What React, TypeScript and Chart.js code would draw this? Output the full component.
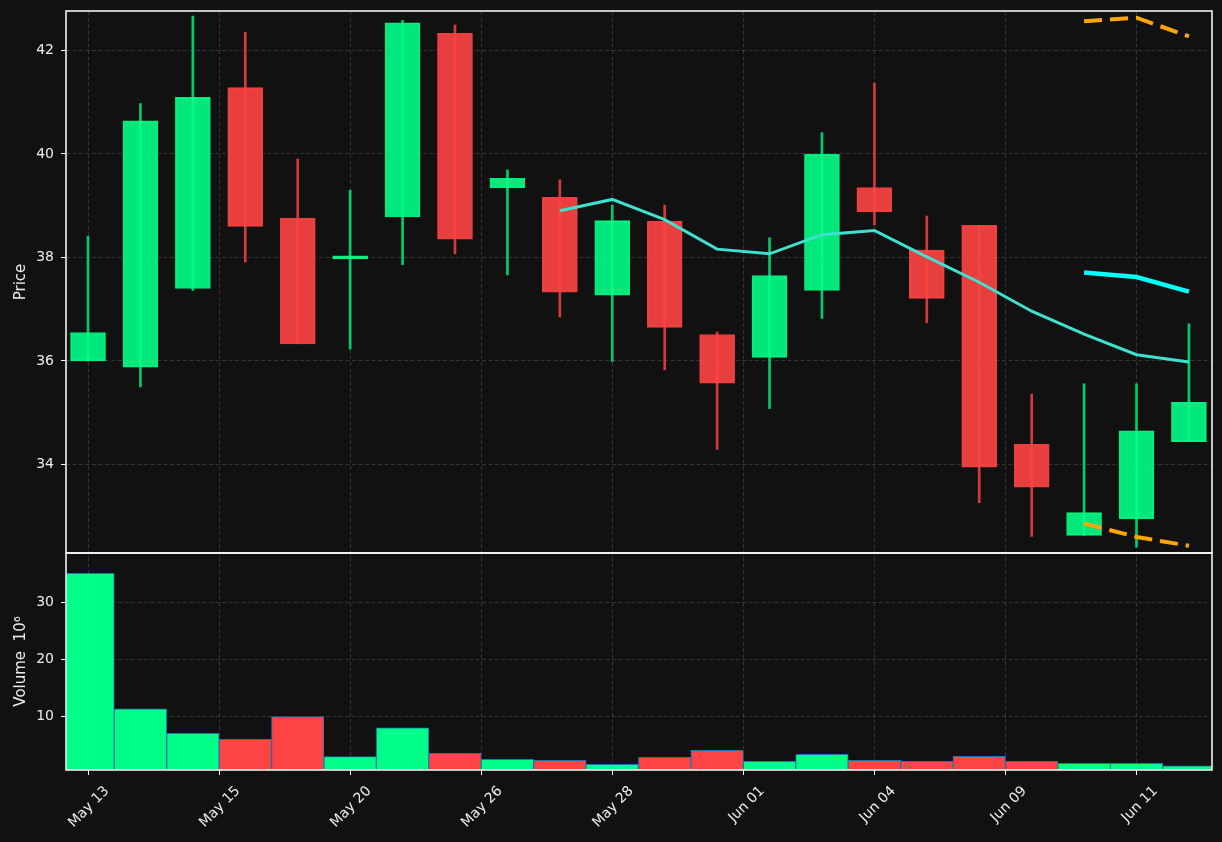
import { useEffect, useRef } from "react";
import { Chart, registerables } from "chart.js";

Chart.register(...registerables);

// ---- data ----
const INDEX = [0, 1, 2, 3, 4, 5, 6, 7, 8, 9, 10, 11, 12, 13, 14, 15, 16, 17, 18, 19, 20, 21];
const OPEN = [36.0, 35.88, 37.4, 41.28, 38.76, 37.97, 38.78, 42.33, 39.34, 39.16, 37.27, 38.7, 36.51, 36.07, 37.36, 39.35, 38.14, 38.62, 34.39, 32.63, 32.95, 34.44];
const CLOSE = [36.55, 40.64, 41.09, 38.6, 36.33, 38.03, 42.53, 38.35, 39.53, 37.33, 38.71, 36.65, 35.57, 37.65, 39.99, 38.88, 37.21, 33.95, 33.56, 33.07, 34.65, 35.2];
const HIGH = [38.41, 40.97, 42.66, 42.35, 39.9, 39.3, 42.58, 42.49, 39.69, 39.5, 39.01, 39.01, 36.56, 38.38, 40.41, 41.37, 38.8, 38.62, 35.36, 35.56, 35.56, 36.72];
const LOW = [36.0, 35.5, 37.36, 37.91, 36.33, 36.23, 37.86, 38.07, 37.66, 36.85, 35.99, 35.83, 34.29, 35.08, 36.82, 38.63, 36.74, 33.26, 32.61, 32.63, 32.4, 34.44];
const VOLUME = [35.1, 11.33, 7.0, 5.96, 9.93, 2.92, 8.0, 3.5, 2.45, 2.28, 1.58, 2.8, 4.03, 2.1, 3.33, 2.28, 2.1, 2.98, 2.1, 1.75, 1.75, 1.33];

const MA_START = 9;
const MA10 = [38.9, 39.12, 38.73, 38.16, 38.07, 38.44, 38.52, 38.01, 37.52, 36.96, 36.52, 36.12, 35.98];
const BAND_START = 19;
const CYAN_LINE = [37.71, 37.62, 37.34];
const ORANGE_UPPER = [42.56, 42.63, 42.27];
const ORANGE_LOWER = [32.86, 32.6, 32.43];

const TICK_POS = [0, 2.5, 5, 7.5, 10, 12.5, 15, 17.5, 20];
const TICK_LABELS = ["May 13", "May 15", "May 20", "May 26", "May 28", "Jun 01", "Jun 04", "Jun 09", "Jun 11"];
const PRICE_TICKS = [34, 36, 38, 40, 42];
const VOL_TICKS = [10, 20, 30];

// ---- styles ----
const UP_BODY = "rgba(0,255,136,0.9)";
const DOWN_BODY = "rgba(255,68,68,0.9)";
const UP_WICK = "#00CC6E";
const DOWN_WICK = "#D43A3A";
const UP_VOL = "#00FF88";
const DOWN_VOL = "#FF4444";
const GRID = "rgba(255,255,255,0.15)";
const TEXT = "#eeeeee";
const FONT = "'DejaVu Sans', sans-serif";

const isUp = (i: number) => CLOSE[i] >= OPEN[i];

const framePlugin = {
  id: "frames",
  beforeDraw(chart: any) {
    const { ctx, width, height } = chart;
    ctx.save();
    ctx.fillStyle = "#111111";
    ctx.fillRect(0, 0, width, height);
    ctx.restore();
  },
  afterDraw(chart: any) {
    const { ctx, chartArea } = chart;
    ctx.save();
    ctx.strokeStyle = "#ffffff";
    ctx.lineWidth = 1.5;
    for (const id of ["y", "yv"]) {
      const s = chart.scales[id];
      ctx.strokeRect(chartArea.left, s.top, chartArea.right - chartArea.left, s.bottom - s.top);
    }
    ctx.restore();
  },
};

const fitY = (s: any) => {
  s.width = 66;
  s.paddingTop = 0;
  s.paddingBottom = 0;
};

export default function App() {
  const ref = useRef<HTMLCanvasElement>(null);

  useEffect(() => {
    const wicks = INDEX.map((i) => ({ x: i, y: [LOW[i], HIGH[i]] }));
    const bodies = INDEX.map((i) => ({ x: i, y: [OPEN[i], CLOSE[i]] }));
    const vols = INDEX.map((i) => ({ x: i, y: VOLUME[i] }));
    const ma = MA10.map((v, k) => ({ x: MA_START + k, y: v }));
    const cyan = CYAN_LINE.map((v, k) => ({ x: BAND_START + k, y: v }));
    const up = ORANGE_UPPER.map((v, k) => ({ x: BAND_START + k, y: v }));
    const lo = ORANGE_LOWER.map((v, k) => ({ x: BAND_START + k, y: v }));

    const chart = new Chart(ref.current as HTMLCanvasElement, {
      type: "bar",
      data: {
        datasets: [
          {
            type: "bar",
            data: wicks as any,
            xAxisID: "x",
            yAxisID: "y",
            backgroundColor: INDEX.map((i) => (isUp(i) ? UP_WICK : DOWN_WICK)),
            borderWidth: 0,
            barThickness: 2,
            grouped: false,
            order: 6,
          } as any,
          {
            type: "bar",
            data: bodies as any,
            xAxisID: "x",
            yAxisID: "y",
            backgroundColor: INDEX.map((i) => (isUp(i) ? UP_BODY : DOWN_BODY)),
            borderColor: INDEX.map((i) => (isUp(i) ? UP_BODY : DOWN_BODY)),
            borderWidth: 1,
            borderSkipped: false,
            barThickness: 35,
            grouped: false,
            order: 5,
          } as any,
          {
            type: "bar",
            data: vols as any,
            xAxisID: "x",
            yAxisID: "yv",
            backgroundColor: INDEX.map((i) => (isUp(i) ? UP_VOL : DOWN_VOL)),
            borderColor: "#1f77b4",
            borderWidth: 1,
            barPercentage: 1,
            categoryPercentage: 1,
            grouped: false,
            order: 5,
          } as any,
          {
            type: "line",
            data: ma as any,
            xAxisID: "x",
            yAxisID: "y",
            borderColor: "#40E0D0",
            borderWidth: 3,
            pointRadius: 0,
            tension: 0,
            order: 1,
          } as any,
          {
            type: "line",
            data: cyan as any,
            xAxisID: "x",
            yAxisID: "y",
            borderColor: "#00FFFF",
            borderWidth: 4.5,
            pointRadius: 0,
            tension: 0,
            order: 1,
          } as any,
          {
            type: "line",
            data: up as any,
            xAxisID: "x",
            yAxisID: "y",
            borderColor: "#FFA500",
            borderWidth: 4,
            borderDash: [18, 8],
            pointRadius: 0,
            tension: 0,
            order: 1,
          } as any,
          {
            type: "line",
            data: lo as any,
            xAxisID: "x",
            yAxisID: "y",
            borderColor: "#FFA500",
            borderWidth: 4,
            borderDash: [18, 8],
            pointRadius: 0,
            tension: 0,
            order: 1,
          } as any,
        ],
      },
      options: {
        responsive: false,
        animation: false,
        devicePixelRatio: 1,
        layout: { padding: { top: 11, right: 10, bottom: 0, left: 0 } },
        plugins: { legend: { display: false }, tooltip: { enabled: false } },
        scales: {
          x: {
            type: "linear",
            position: "bottom",
            offset: false,
            min: -0.42,
            max: 21.44,
            afterBuildTicks: (s: any) => {
              s.ticks = TICK_POS.map((v) => ({ value: v }));
            },
            afterFit: (s: any) => {
              s.height = 72;
              s.paddingLeft = 0;
              s.paddingRight = 0;
            },
            grid: { offset: false, color: GRID, lineWidth: 1, tickColor: "#ffffff", tickLength: 5, tickBorderDash: [] },
            border: { display: false, dash: [4, 2.5] },
            ticks: {
              autoSkip: false,
              maxRotation: 45,
              minRotation: 45,
              padding: 8,
              labelOffset: 19,
              color: TEXT,
              font: { family: FONT, size: 14 },
              callback: (_v: any, idx: number) => TICK_LABELS[idx],
            },
          },
          y: {
            type: "linear",
            position: "left",
            stack: "panels",
            stackWeight: 542,
            weight: 2,
            min: 32.29,
            max: 42.76,
            afterBuildTicks: (s: any) => {
              s.ticks = PRICE_TICKS.map((v) => ({ value: v }));
            },
            afterFit: fitY,
            grid: { color: GRID, lineWidth: 1, tickColor: "#ffffff", tickLength: 5, tickBorderDash: [] },
            border: { display: false, dash: [4, 2.5] },
            ticks: { padding: 7, color: TEXT, font: { family: FONT, size: 14 } },
            title: {
              display: true,
              text: "Price",
              color: TEXT,
              font: { family: FONT, size: 15 },
              padding: { top: 12, bottom: 0 },
            },
          },
          yv: {
            type: "linear",
            position: "left",
            stack: "panels",
            stackWeight: 217,
            weight: 1,
            min: 0.58,
            max: 38.65,
            afterBuildTicks: (s: any) => {
              s.ticks = VOL_TICKS.map((v) => ({ value: v }));
            },
            afterFit: fitY,
            grid: { color: GRID, lineWidth: 1, tickColor: "#ffffff", tickLength: 5, tickBorderDash: [] },
            border: { display: false, dash: [4, 2.5] },
            ticks: { padding: 7, color: TEXT, font: { family: FONT, size: 14 } },
            title: {
              display: true,
              text: "Volume  10\u2076",
              color: TEXT,
              font: { family: FONT, size: 15 },
              padding: { top: 12, bottom: 0 },
            },
          },
        },
      } as any,
      plugins: [framePlugin],
    });
    return () => chart.destroy();
  }, []);

  return (
    <div style={{ position: "fixed", left: 0, top: 0, width: 1222, height: 842, background: "#111111" }}>
      <canvas ref={ref} width={1222} height={842} style={{ display: "block", width: 1222, height: 842 }} />
    </div>
  );
}
